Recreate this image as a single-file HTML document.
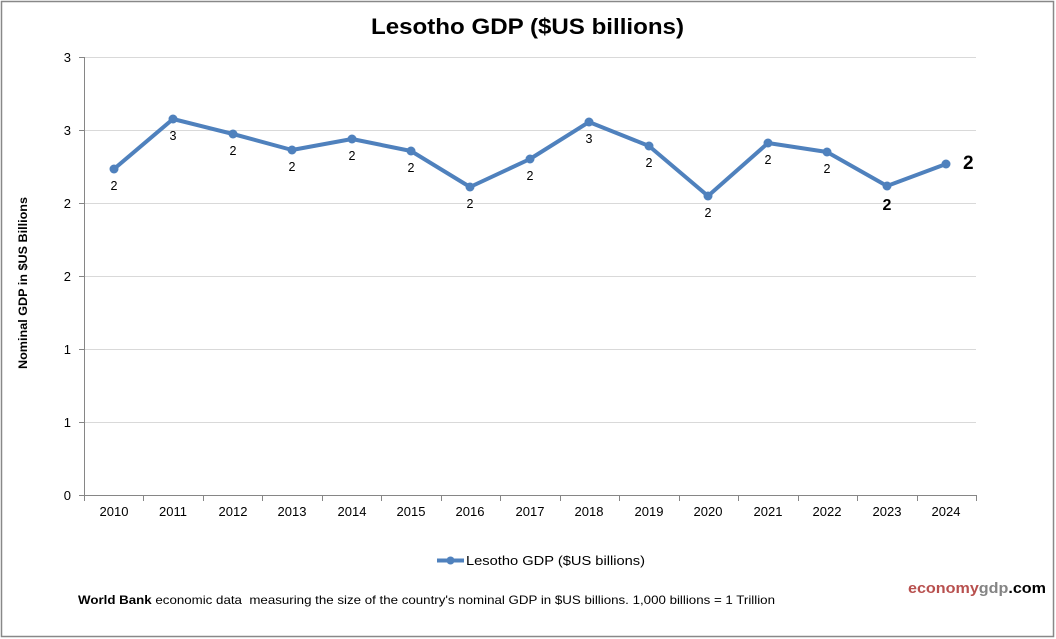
<!DOCTYPE html>
<html><head><meta charset="utf-8"><style>
html,body{margin:0;padding:0;background:#fff;}
svg{display:block;font-family:"Liberation Sans",Arial,sans-serif;}
</style></head><body>
<svg width="1056" height="639" viewBox="0 0 1056 639" xmlns="http://www.w3.org/2000/svg">
<rect x="0" y="0" width="1056" height="639" fill="#fff"/>
<rect x="1.5" y="1.5" width="1052" height="635" fill="none" stroke="#888" stroke-width="1.5"/>
<text x="371" y="34" font-size="22" font-weight="bold" fill="#000" textLength="313" lengthAdjust="spacingAndGlyphs">Lesotho GDP ($US billions)</text>
<g stroke="#d9d9d9" stroke-width="1">
<line x1="84" y1="57.5" x2="976" y2="57.5"/>
<line x1="84" y1="130.5" x2="976" y2="130.5"/>
<line x1="84" y1="203.5" x2="976" y2="203.5"/>
<line x1="84" y1="276.5" x2="976" y2="276.5"/>
<line x1="84" y1="349.5" x2="976" y2="349.5"/>
<line x1="84" y1="422.5" x2="976" y2="422.5"/>
</g>
<g stroke="#868686" stroke-width="1">
<line x1="84.5" y1="57" x2="84.5" y2="495"/>
<line x1="79" y1="495.5" x2="976" y2="495.5"/>
<line x1="79" y1="57.5" x2="84" y2="57.5"/>
<line x1="79" y1="130.5" x2="84" y2="130.5"/>
<line x1="79" y1="203.5" x2="84" y2="203.5"/>
<line x1="79" y1="276.5" x2="84" y2="276.5"/>
<line x1="79" y1="349.5" x2="84" y2="349.5"/>
<line x1="79" y1="422.5" x2="84" y2="422.5"/>
<line x1="84.5" y1="495" x2="84.5" y2="501"/>
<line x1="143.5" y1="495" x2="143.5" y2="501"/>
<line x1="203.5" y1="495" x2="203.5" y2="501"/>
<line x1="262.5" y1="495" x2="262.5" y2="501"/>
<line x1="322.5" y1="495" x2="322.5" y2="501"/>
<line x1="381.5" y1="495" x2="381.5" y2="501"/>
<line x1="441.5" y1="495" x2="441.5" y2="501"/>
<line x1="500.5" y1="495" x2="500.5" y2="501"/>
<line x1="560.5" y1="495" x2="560.5" y2="501"/>
<line x1="619.5" y1="495" x2="619.5" y2="501"/>
<line x1="679.5" y1="495" x2="679.5" y2="501"/>
<line x1="738.5" y1="495" x2="738.5" y2="501"/>
<line x1="798.5" y1="495" x2="798.5" y2="501"/>
<line x1="857.5" y1="495" x2="857.5" y2="501"/>
<line x1="917.5" y1="495" x2="917.5" y2="501"/>
<line x1="976.5" y1="495" x2="976.5" y2="501"/>
</g>
<g font-size="13" fill="#000" text-anchor="end">
<text x="71" y="62">3</text>
<text x="71" y="135">3</text>
<text x="71" y="208">2</text>
<text x="71" y="281">2</text>
<text x="71" y="354">1</text>
<text x="71" y="427">1</text>
<text x="71" y="500">0</text>
</g>
<g font-size="13" fill="#000" text-anchor="middle">
<text x="114" y="516">2010</text>
<text x="173" y="516">2011</text>
<text x="233" y="516">2012</text>
<text x="292" y="516">2013</text>
<text x="352" y="516">2014</text>
<text x="411" y="516">2015</text>
<text x="470" y="516">2016</text>
<text x="530" y="516">2017</text>
<text x="589" y="516">2018</text>
<text x="649" y="516">2019</text>
<text x="708" y="516">2020</text>
<text x="768" y="516">2021</text>
<text x="827" y="516">2022</text>
<text x="887" y="516">2023</text>
<text x="946" y="516">2024</text>
</g>
<text transform="translate(27,369) rotate(-90)" font-size="12" font-weight="bold" fill="#000" textLength="172" lengthAdjust="spacingAndGlyphs">Nominal GDP in $US Billions</text>
<polyline fill="none" stroke="#4f81bd" stroke-width="4" stroke-linejoin="round" stroke-linecap="round"
points="114,169 173,119 233,134 292,150 352,139 411,151 470,187 530,159 589,122 649,146 708,196 768,143 827,152 887,186 946,164"/>
<g fill="#4f81bd">
<circle cx="114" cy="169" r="4.5"/><circle cx="173" cy="119" r="4.5"/><circle cx="233" cy="134" r="4.5"/>
<circle cx="292" cy="150" r="4.5"/><circle cx="352" cy="139" r="4.5"/><circle cx="411" cy="151" r="4.5"/>
<circle cx="470" cy="187" r="4.5"/><circle cx="530" cy="159" r="4.5"/><circle cx="589" cy="122" r="4.5"/>
<circle cx="649" cy="146" r="4.5"/><circle cx="708" cy="196" r="4.5"/><circle cx="768" cy="143" r="4.5"/>
<circle cx="827" cy="152" r="4.5"/><circle cx="887" cy="186" r="4.5"/><circle cx="946" cy="164" r="4.5"/>
</g>
<g font-size="12.5" fill="#000" text-anchor="middle">
<text x="114" y="190">2</text>
<text x="173" y="140">3</text>
<text x="233" y="155">2</text>
<text x="292" y="171">2</text>
<text x="352" y="160">2</text>
<text x="411" y="172">2</text>
<text x="470" y="208">2</text>
<text x="530" y="180">2</text>
<text x="589" y="143">3</text>
<text x="649" y="167">2</text>
<text x="708" y="217">2</text>
<text x="768" y="164">2</text>
<text x="827" y="173">2</text>
</g>
<text x="887" y="210" text-anchor="middle" font-size="16" font-weight="bold" fill="#000">2</text>
<text x="963" y="169" font-size="19" font-weight="bold" fill="#000">2</text>
<line x1="437" y1="560.5" x2="464" y2="560.5" stroke="#4f81bd" stroke-width="4"/>
<circle cx="450.5" cy="560.5" r="4" fill="#4f81bd"/>
<text x="466" y="565" font-size="13" fill="#000" textLength="179" lengthAdjust="spacingAndGlyphs">Lesotho GDP ($US billions)</text>
<text x="78" y="604" font-size="12" fill="#000" xml:space="preserve" textLength="697" lengthAdjust="spacingAndGlyphs"><tspan font-weight="bold">World Bank</tspan> economic data  measuring the size of the country's nominal GDP in $US billions. 1,000 billions = 1 Trillion</text>
<text x="908" y="593" font-size="15" font-weight="bold" textLength="138" lengthAdjust="spacingAndGlyphs"><tspan fill="#b8504e">economy</tspan><tspan fill="#848484">gdp</tspan><tspan fill="#000">.com</tspan></text>
</svg>
</body></html>
